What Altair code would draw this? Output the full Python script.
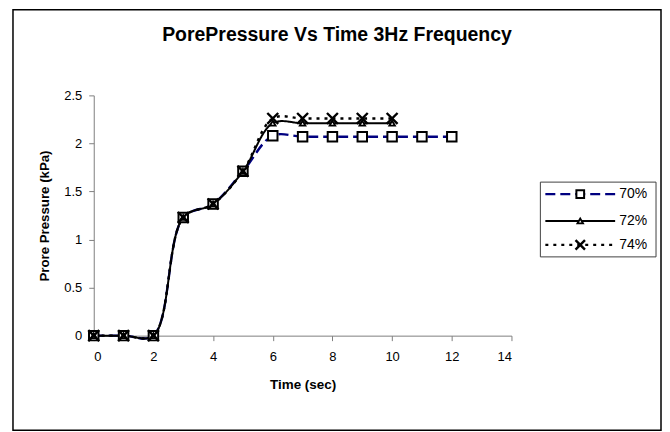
import altair as alt
import pandas as pd

# ---- data ----
series_names = ["70%", "72%", "74%"]
time_70 = [0, 1, 2, 3, 4, 5, 6, 7, 8, 9, 10, 11, 12]
pp_70 = [0, 0, 0, 1.23, 1.37, 1.71, 2.08, 2.07, 2.07, 2.07, 2.07, 2.07, 2.07]
time_72 = [0, 1, 2, 3, 4, 5, 6, 7, 8, 9, 10]
pp_72 = [0, 0, 0, 1.23, 1.37, 1.71, 2.21, 2.21, 2.21, 2.21, 2.21]
time_74 = [0, 1, 2, 3, 4, 5, 6, 7, 8, 9, 10]
pp_74 = [0, 0, 0, 1.23, 1.37, 1.71, 2.26, 2.26, 2.26, 2.26, 2.26]
x_ticks = [0, 2, 4, 6, 8, 10, 12, 14]
y_ticks = [0, 0.5, 1, 1.5, 2, 2.5]

frames = []
for name, t, p in [("70%", time_70, pp_70), ("72%", time_72, pp_72), ("74%", time_74, pp_74)]:
    frames.append(pd.DataFrame({"time": t, "pp": p, "series": name}))
df = pd.concat(frames, ignore_index=True)

FONT = "Liberation Sans"
W, H = 419, 241

X_SHAPE = "M-1,-1L1,1M-1,1L1,-1"
styles = {
    "70%": dict(color="#000080", dash=[10, 5], width=2.4, shape="square", size=90, sw=2.0, lsize=60),
    "72%": dict(color="#000000", dash=[1, 0], width=2.0, shape="triangle-up", size=32, sw=1.8, lsize=32),
    "74%": dict(color="#000000", dash=[3, 5], width=2.4, shape=X_SHAPE, size=120, sw=2.4, lsize=90),
}

x_enc = alt.X("time:Q", scale=alt.Scale(domain=[0, 14], nice=False, zero=False),
              axis=alt.Axis(values=x_ticks, title="Time (sec)", grid=False,
                            labelFontSize=13, titleFontSize=13.5, titleFontWeight="bold",
                            tickSize=5, labelPadding=10, titlePadding=14,
                            domainColor="#808080", tickColor="#808080",
                            labelColor="black", titleColor="black",
                            labelFont=FONT, titleFont=FONT))
y_enc = alt.Y("pp:Q", scale=alt.Scale(domain=[0, 2.5], nice=False),
              axis=alt.Axis(values=y_ticks, format="~g", title="Prore Pressure (kPa)", grid=False,
                            labelFontSize=13, titleFontSize=13.3, titleFontWeight="bold",
                            tickSize=5, labelPadding=7, titlePadding=12,
                            domainColor="#808080", tickColor="#808080",
                            labelColor="black", titleColor="black",
                            labelFont=FONT, titleFont=FONT))

one = pd.DataFrame({"k": [0]})

layers = []
# outer chart border
layers.append(alt.Chart(one).mark_rect(fillOpacity=0, stroke="#000000", strokeWidth=1.5).encode(
    x=alt.value(-81), x2=alt.value(569), y=alt.value(-86), y2=alt.value(336)))

base = alt.Chart(df)
for name in series_names:
    s = styles[name]
    layers.append(base.transform_filter(alt.datum.series == name).mark_line(
        interpolate="catmull-rom", color=s["color"], strokeDash=s["dash"], strokeWidth=s["width"]
    ).encode(x=x_enc, y=y_enc))
for name in series_names:
    s = styles[name]
    layers.append(base.transform_filter(alt.datum.series == name).mark_point(
        shape=s["shape"], size=s["size"], filled=False, fill="white", fillOpacity=1 if name != "74%" else 0,
        stroke="black", strokeWidth=s["sw"], opacity=1
    ).encode(x="time:Q", y="pp:Q"))

# chart title
layers.append(alt.Chart(one).mark_text(
    text="PorePressure Vs Time 3Hz Frequency", font=FONT, fontSize=19.5, fontWeight="bold",
    align="center", baseline="middle", color="black"
).encode(x=alt.value(244), y=alt.value(-61)))

# legend box
layers.append(alt.Chart(one).mark_rect(fillOpacity=0, stroke="#404040", strokeWidth=1).encode(
    x=alt.value(448), x2=alt.value(564), y=alt.value(87), y2=alt.value(162)))
leg_y = [99, 126, 150]
for name, ly in zip(series_names, leg_y):
    s = styles[name]
    ld = pd.DataFrame({"series": [name]})
    layers.append(alt.Chart(ld).mark_rule(color=s["color"], strokeDash=s["dash"], strokeWidth=s["width"]).encode(
        x=alt.value(453), x2=alt.value(523), y=alt.value(ly)))
    layers.append(alt.Chart(ld).mark_point(
        shape=s["shape"], size=s["lsize"], filled=False, fill="white", fillOpacity=1 if name != "74%" else 0,
        stroke="black", strokeWidth=s["sw"], opacity=1
    ).encode(x=alt.value(488), y=alt.value(ly)))
    layers.append(alt.Chart(ld).mark_text(align="left", baseline="middle", font=FONT, fontSize=14,
                                          color="black").encode(
        x=alt.value(527), y=alt.value(ly), text="series:N"))

chart = alt.layer(*layers).properties(
    width=W, height=H,
    autosize=alt.AutoSizeParams(type="none"),
    padding={"left": 86, "top": 87, "right": 151, "bottom": 96},
    background="white",
).configure_view(stroke=None).configure_axis(domainWidth=1, tickWidth=1)

chart.save("out.html", embed_options={"renderer": "svg", "actions": False})
